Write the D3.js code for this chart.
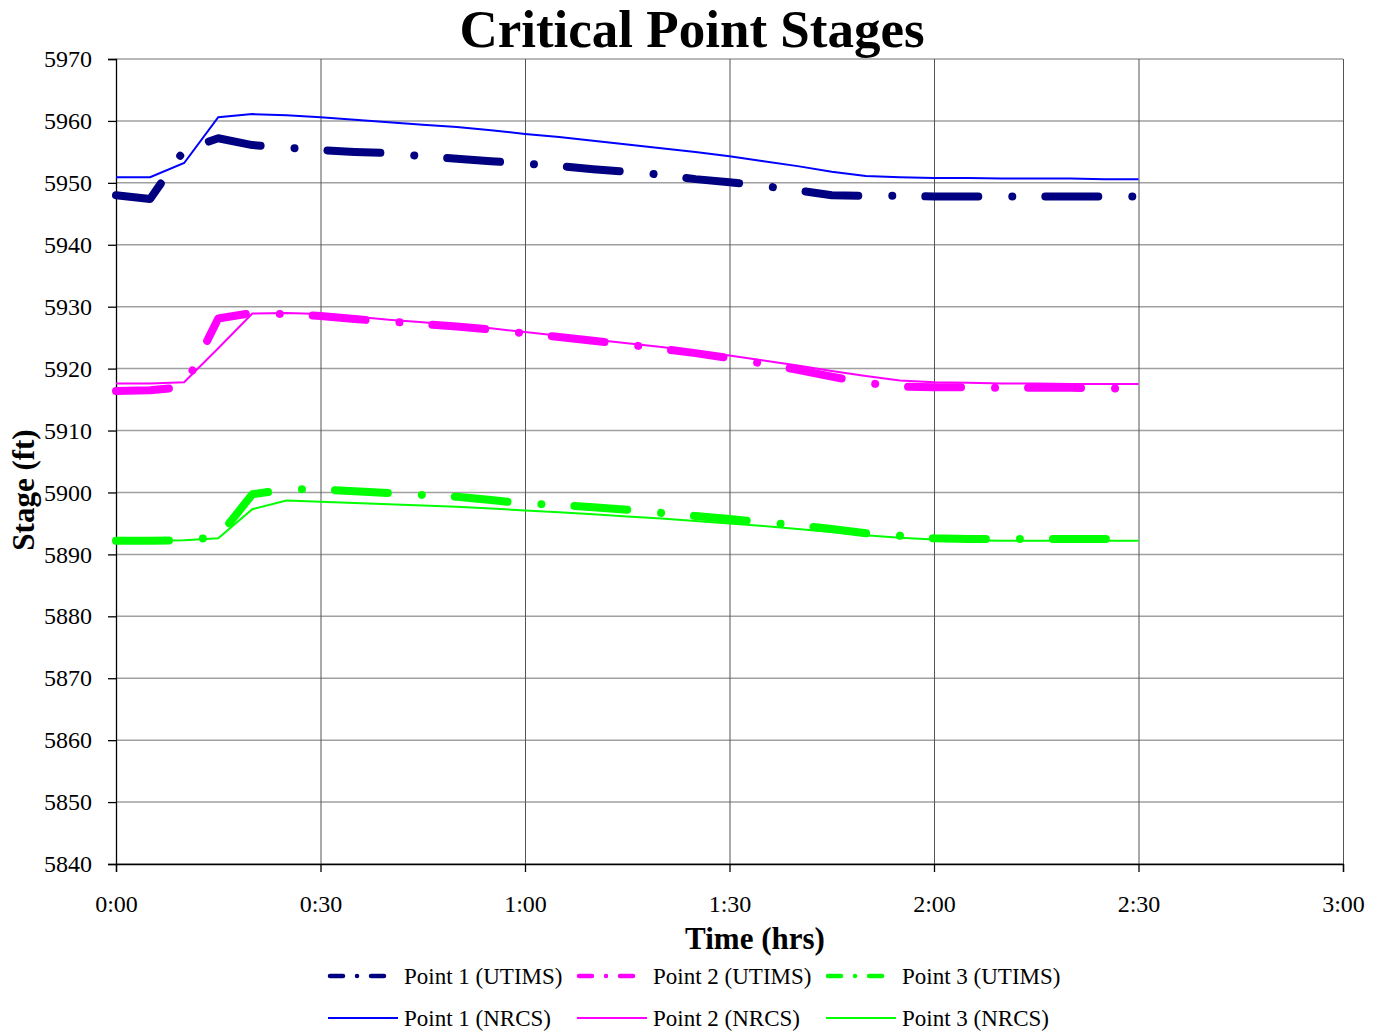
<!DOCTYPE html>
<html>
<head>
<meta charset="utf-8">
<script src="https://cdn.jsdelivr.net/npm/d3@7"></script>
<style>
  body { margin: 0; background: #fff; }
  text { font-family: "Liberation Serif", "Times New Roman", serif; }
</style>
</head>
<body>
<div id="container"></div>
<script>
/* CONSTANTS AND GLOBALS */
const width = 1388,
  height = 1034,
  margin = { top: 59, right: 45, bottom: 170, left: 116 };

/* DATA */
// time in minutes
const minutes = [0, 5, 10, 15, 20, 25, 30, 35, 40, 45, 50, 55, 60, 65, 70, 75, 80, 85, 90, 95, 100,
  105, 110, 115, 120, 125, 130, 135, 140, 145, 150];

const p1Utims = [5948.0, 5947.4, 5955.3, 5957.2, 5956.1, 5955.7, 5955.3, 5955.0, 5954.8, 5954.3, 5953.9,
  5953.5, 5953.1, 5952.7, 5952.2, 5951.8, 5951.3, 5950.6, 5950.1, 5949.5, 5948.8,
  5948.0, 5947.9, 5947.9, 5947.8, 5947.8, 5947.8, 5947.8, 5947.8, 5947.8, 5947.8];
const p2Utims = [5916.4, 5916.5, 5917.0, 5928.1, 5929.0, 5928.8, 5928.5, 5928.0, 5927.6, 5927.2, 5926.8,
  5926.3, 5925.7, 5925.1, 5924.5, 5923.9, 5923.2, 5922.5, 5921.7, 5920.8, 5919.8,
  5918.7, 5917.7, 5917.1, 5917.0, 5917.0, 5916.9, 5916.9, 5916.9, 5916.8, 5916.8];
const p3Utims = [5892.2, 5892.2, 5892.3, 5892.8, 5899.7, 5900.5, 5900.5, 5900.2, 5899.9, 5899.6, 5899.3,
  5898.8, 5898.2, 5898.0, 5897.6, 5897.2, 5896.7, 5896.2, 5895.7, 5895.2, 5894.7,
  5894.1, 5893.4, 5893.0, 5892.6, 5892.5, 5892.5, 5892.5, 5892.5, 5892.5, 5892.5];
const p1Nrcs = [5950.9, 5950.9, 5953.2, 5960.6, 5961.1, 5960.9, 5960.6, 5960.2, 5959.8, 5959.4, 5959.0,
  5958.5, 5957.9, 5957.4, 5956.8, 5956.2, 5955.6, 5955.0, 5954.3, 5953.5, 5952.7,
  5951.8, 5951.1, 5950.9, 5950.8, 5950.8, 5950.7, 5950.7, 5950.7, 5950.6, 5950.6];
const p2Nrcs = [5917.6, 5917.6, 5917.8, 5923.3, 5928.9, 5929.0, 5928.8, 5928.4, 5927.9, 5927.5, 5927.0,
  5926.5, 5925.9, 5925.3, 5924.7, 5924.1, 5923.5, 5922.8, 5922.1, 5921.3, 5920.5,
  5919.6, 5918.8, 5918.1, 5917.8, 5917.7, 5917.6, 5917.6, 5917.5, 5917.5, 5917.5];
const p3Nrcs = [5892.2, 5892.2, 5892.3, 5892.6, 5897.3, 5898.7, 5898.5, 5898.3, 5898.1, 5897.9, 5897.7,
  5897.4, 5897.1, 5896.8, 5896.5, 5896.1, 5895.8, 5895.4, 5895.0, 5894.6, 5894.1,
  5893.6, 5893.1, 5892.7, 5892.4, 5892.3, 5892.2, 5892.2, 5892.2, 5892.2, 5892.2];

const xTicks = [0, 30, 60, 90, 120, 150, 180];
const xTickLabels = ["0:00", "0:30", "1:00", "1:30", "2:00", "2:30", "3:00"];
const yTicks = [5840, 5850, 5860, 5870, 5880, 5890, 5900, 5910, 5920, 5930, 5940, 5950, 5960, 5970];

const seriesNames = ["Point 1 (UTIMS)", "Point 2 (UTIMS)", "Point 3 (UTIMS)",
  "Point 1 (NRCS)", "Point 2 (NRCS)", "Point 3 (NRCS)"];
const seriesValues = [p1Utims, p2Utims, p3Utims, p1Nrcs, p2Nrcs, p3Nrcs];
const seriesColors = ["#000080", "#ff00ff", "#00ff00", "#0000ff", "#ff00ff", "#00ff00"];

/* SVG */
const svg = d3.select("#container")
  .append("svg")
  .attr("width", width)
  .attr("height", height)

/* SCALES */
const xScale = d3.scaleLinear()
  .domain([0, 180])
  .range([margin.left, width - margin.right])

const yScale = d3.scaleLinear()
  .domain([5840, 5970])
  .range([height - margin.bottom, margin.top])

// grid
svg.append("g")
  .selectAll("line")
  .data(yTicks)
  .join("line")
  .attr("x1", margin.left).attr("x2", width - margin.right)
  .attr("y1", d => yScale(d)).attr("y2", d => yScale(d))
  .attr("stroke", "#a0a0a0")
  .attr("stroke-width", 1.5)

svg.append("g")
  .selectAll("line")
  .data(xTicks.slice(1))
  .join("line")
  .attr("x1", d => xScale(d) + 0.5).attr("x2", d => xScale(d) + 0.5)
  .attr("y1", margin.top).attr("y2", height - margin.bottom)
  .attr("stroke", "#555")
  .attr("stroke-width", 1)

/* AXES */
const yAxis = d3.axisLeft(yScale)
  .tickValues(yTicks)
  .tickSize(8)
  .tickPadding(16)
  .tickFormat(d3.format("d"))

const xAxis = d3.axisBottom(xScale)
  .tickValues(xTicks)
  .tickSize(8)
  .tickPadding(23)
  .tickFormat((d, i) => xTickLabels[i])

const gy = svg.append("g")
  .attr("transform", `translate(${margin.left},0)`)
  .call(yAxis)
gy.selectAll("text").attr("font-size", 24).attr("font-family", "Liberation Serif").attr("fill", "#000")
gy.selectAll("line, path").attr("stroke", "#000").attr("stroke-width", 1.3)

const gx = svg.append("g")
  .attr("transform", `translate(0,${height - margin.bottom})`)
  .call(xAxis)
gx.selectAll("text").attr("font-size", 24).attr("font-family", "Liberation Serif").attr("fill", "#000")
gx.selectAll("line, path").attr("stroke", "#000").attr("stroke-width", 1.3)

/* LINES */
const line = d3.line()
  .x((d, i) => xScale(minutes[i]))
  .y(d => yScale(d))

// NRCS thin lines
svg.append("g")
  .selectAll("path")
  .data(seriesValues.slice(3))
  .join("path")
  .attr("d", d => line(d))
  .attr("fill", "none")
  .attr("stroke", (d, i) => seriesColors[i + 3])
  .attr("stroke-width", 2)

// UTIMS dash-dot lines
svg.append("g")
  .selectAll("path")
  .data(seriesValues.slice(0, 3))
  .join("path")
  .attr("d", d => line(d))
  .attr("fill", "none")
  .attr("stroke", (d, i) => seriesColors[i])
  .attr("stroke-width", 8)
  .attr("stroke-linecap", "round")
  .attr("stroke-linejoin", "round")
  .attr("stroke-dasharray", "53,34,0.01,33")

/* TITLES */
svg.append("text")
  .attr("x", 692).attr("y", 47)
  .attr("text-anchor", "middle")
  .attr("font-size", 53).attr("font-weight", "bold")
  .text("Critical Point Stages")

svg.append("text")
  .attr("x", 755).attr("y", 949)
  .attr("text-anchor", "middle")
  .attr("font-size", 31).attr("font-weight", "bold")
  .text("Time (hrs)")

svg.append("text")
  .attr("transform", "translate(34,490) rotate(-90)")
  .attr("text-anchor", "middle")
  .attr("font-size", 31).attr("font-weight", "bold")
  .text("Stage (ft)")

/* LEGEND */
const legendX = [328, 577, 826];
const legendY = [976, 1018];
const legend = svg.append("g")
  .selectAll("g")
  .data(seriesNames)
  .join("g")
  .attr("transform", (d, i) => `translate(${legendX[i % 3]},${legendY[Math.floor(i / 3)]})`)

legend.append("line")
  .attr("x1", (d, i) => i < 3 ? 2 : 0).attr("x2", (d, i) => i < 3 ? 68 : 70)
  .attr("y1", 0).attr("y2", 0)
  .attr("stroke", (d, i) => seriesColors[i])
  .attr("stroke-width", (d, i) => i < 3 ? 4.5 : 2)
  .attr("stroke-linecap", (d, i) => i < 3 ? "round" : "butt")
  .attr("stroke-dasharray", (d, i) => i < 3 ? "13,14,0.01,14" : null)

legend.append("text")
  .attr("x", 76).attr("y", 8)
  .attr("font-size", 23)
  .text(d => d)
</script>
</body>
</html>
